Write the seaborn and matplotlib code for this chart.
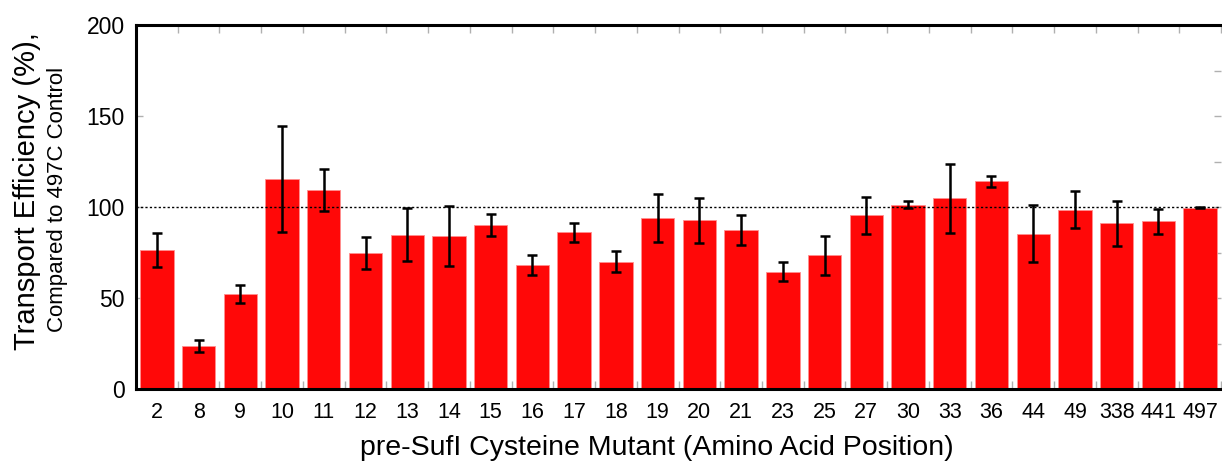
import numpy as np
import pandas as pd
import matplotlib
matplotlib.use("Agg")
import matplotlib.pyplot as plt
import seaborn as sns

# mutant positions and transport efficiency (% of 497C control)
positions = ["2", "8", "9", "10", "11", "12", "13", "14", "15", "16", "17", "18", "19",
             "20", "21", "23", "25", "27", "30", "33", "36", "44", "49", "338", "441", "497"]
efficiency = [76.5, 23.4, 52.1, 115.4, 109.2, 74.8, 84.8, 84.0, 90.0, 68.4, 86.1, 70.0, 94.2,
              92.6, 87.4, 64.5, 73.5, 95.4, 101.3, 104.7, 114.1, 85.3, 98.5, 91.0, 92.2, 99.6]
err = [9.2, 3.3, 4.9, 29.0, 11.6, 8.9, 14.4, 16.4, 6.2, 5.5, 5.1, 5.8, 13.2,
       12.4, 8.3, 5.1, 10.7, 10.1, 1.9, 19.0, 2.9, 15.6, 10.2, 12.2, 6.8, 0.3]
control = 100

df = pd.DataFrame({"pos": positions, "eff": efficiency, "err": err})

sns.set_theme(style="white")
plt.rcParams["font.family"] = ["Liberation Sans", "DejaVu Sans"]
plt.rcParams["text.color"] = "black"

fig = plt.figure(figsize=(12.22, 4.65), dpi=100)
ax = fig.add_axes([136 / 1222, 76 / 465, 1085 / 1222, 364 / 465])

sns.barplot(data=df, x="pos", y="eff", order=positions, color="#ff0808",
            saturation=1, width=0.8, errorbar=None, edgecolor="#ff8f8f",
            linewidth=0.6, ax=ax)
ax.errorbar(np.arange(len(positions)), df["eff"], yerr=df["err"], fmt="none",
            ecolor="black", elinewidth=1.8, capsize=3.4, capthick=1.8, zorder=5)
ax.axhline(control, color="black", lw=1.0, ls=(0, (1.6, 1.6)), zorder=4)

ax.set_xlim(-0.5, len(positions) - 0.5)
ax.set_ylim(0, 200)
ax.set_yticks([0, 50, 100, 150, 200])
ax.set_xlabel("")
ax.set_ylabel("")

# ticks: labels at bar centres, small grey marks between bars
ax.tick_params(axis="x", which="major", length=0, labelsize=15.5, pad=9, labelcolor="black")
ax.set_xticks(np.arange(len(positions) + 1) - 0.5, minor=True)
ax.tick_params(axis="x", which="minor", direction="in", length=6, width=1,
               color="#b0b0b0", top=True, bottom=True)
ax.tick_params(axis="y", which="major", direction="in", length=5, width=1,
               color="#b0b0b0", labelcolor="black", labelsize=16.5, pad=8,
               left=True, right=False)

sec = ax.secondary_yaxis("right")
sec.set_yticks(np.arange(25, 200, 25))
sec.tick_params(direction="in", length=5, width=1, color="#b0b0b0", labelright=False)
sec.spines["right"].set_visible(False)

for s in ["left", "bottom", "top"]:
    ax.spines[s].set_color("black")
    ax.spines[s].set_linewidth(2.2)
ax.spines["right"].set_visible(False)

fig.text(657 / 1222, 1 - 448 / 465, "pre-SufI Cysteine Mutant (Amino Acid Position)",
         ha="center", va="center", fontsize=20.5, color="black")
fig.text(27 / 1222, 1 - 191 / 465, "Transport Efficiency (%),", rotation=90,
         ha="center", va="center", fontsize=21, color="black")
fig.text(58 / 1222, 1 - 199 / 465, "Compared to 497C Control", rotation=90,
         ha="center", va="center", fontsize=16, color="black")

fig.savefig("out.png", dpi=100)
